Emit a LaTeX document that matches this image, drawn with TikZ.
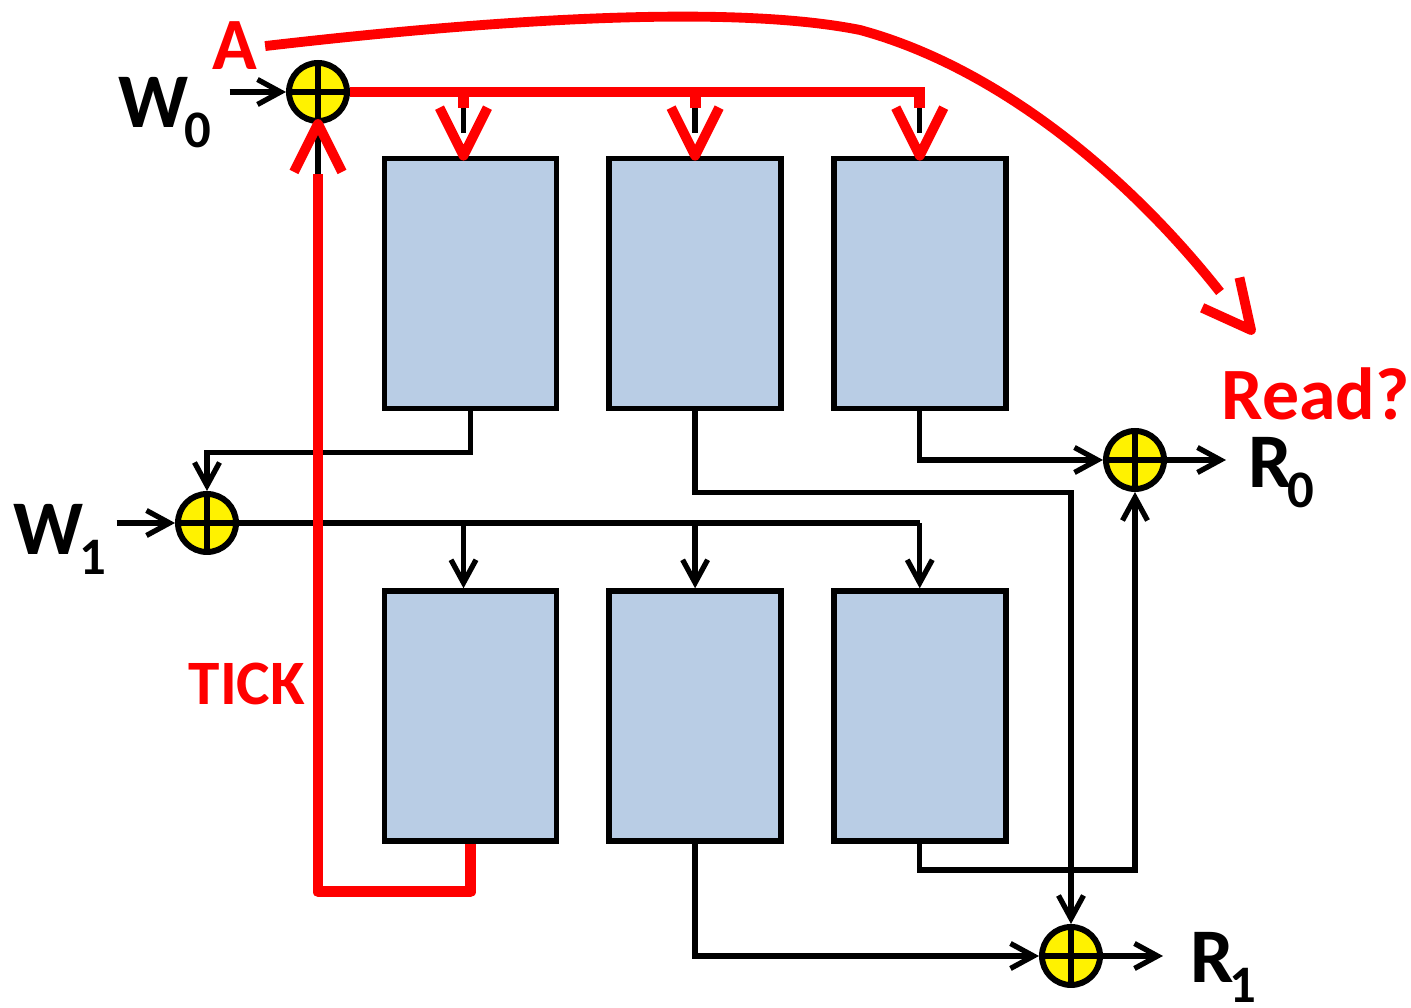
\documentclass[tikz,border=0pt]{standalone}
\usepackage{fontspec}
\setmainfont{Carlito}
\usepackage{xcolor}
\usetikzlibrary{arrows.meta,positioning,calc}
\definecolor{cellblue}{HTML}{B9CDE5}
\definecolor{tickred}{HTML}{FF0000}

\newcommand{\port}[2]{#1\kern-0.06em\raisebox{-5.5pt}{\fontsize{15}{15}\selectfont\bfseries #2}}

\begin{document}
\begin{tikzpicture}[
  cell/.style={draw, line width=1.6pt, fill=cellblue, minimum width=1.72cm, minimum height=2.50cm,
               inner sep=0pt},
  adder/.style={circle, draw, line width=1.7pt, fill=yellow, minimum size=0.58cm, inner sep=0pt,
    path picture={\draw[line width=1.6pt] (path picture bounding box.north) -- (path picture bounding box.south)
                  (path picture bounding box.west) -- (path picture bounding box.east);}},
  wire/.style={line width=1.5pt},
  link/.style={line width=1.5pt, -{Straight Barb[length=2.3mm, width=2.5mm]}},
  tick/.style={draw=tickred, line width=3.1pt, line join=round},
  port/.style={font=\fontsize{22}{22}\selectfont\bfseries, inner sep=0pt, anchor=base west},
  note/.style={text=tickred, font=\fontsize{21}{21}\selectfont\bfseries, inner sep=0pt, anchor=base west},
  redvee/.pic={\draw[tickred, line width=2.8pt, line join=round] (-0.24,0.48) -- (0,0) -- (0.24,0.48);}
]
\useasboundingbox (0,0) rectangle (14.11,10.08);

% memory cells
\node[cell] (m00) at (4.705,7.245) {};
\node[cell, right=0.47cm of m00] (m01) {};
\node[cell, right=0.47cm of m01] (m02) {};
\node[cell, below=1.77cm of m00] (m10) {};
\node[cell, right=0.47cm of m10] (m11) {};
\node[cell, right=0.47cm of m11] (m12) {};

% adders
\node[adder] (a0) at (3.18,9.16) {};
\node[adder] (a1) at (2.07,4.85) {};
\node[adder] (r0a) at (11.35,5.48) {};
\node[adder] (r1a) at (10.71,0.52) {};

% ports and notes
\node[port] (w0) at (1.18,8.80) {\port{W}{0}};
\node[port] (w1) at (0.13,4.53) {\port{W}{1}};
\node[port] (r0) at (12.48,5.20) {\port{R}{0}};
\node[port] (r1) at (11.90,0.25) {\port{R}{1}};
\node[note] (lblA) at (2.12,9.38) {A};
\node[note] (lblread) at (12.21,5.88) {Read?};
\node[note, font=\fontsize{18}{18}\selectfont\bfseries] (lbltick) at (1.88,3.03) {TICK};
\coordinate (readend) at (12.20,7.16);
\coordinate (readtip) at (12.51,6.78);

% write buses
\draw[link, shorten <=1.8mm] (a0 -| w0.east) -- (a0.west);
\draw[link, shorten <=1mm] (a1 -| w1.east) -- (a1.west);
\draw[wire] (a1.east) -- (a1 -| m12.north);
\foreach \c/\dx in {m10/-0.07, m11/0, m12/0}
  \draw[link] ([xshift=\dx cm]\c.north |- a1) -- ([xshift=\dx cm]\c.north);
\foreach \c/\dx in {m00/-0.07, m01/0, m02/0}
  \draw[wire] ([xshift=\dx cm]\c.north |- a0) -- ([xshift=\dx cm, yshift=2.3mm]\c.north);
\draw[wire] (a0.south) -- ++(0,-0.5);

% read paths
\draw[link] (m00.south) -- ++(0,-0.41) -| (a1.north);
\draw[link] (m01.south) -- ++(0,-0.81) -| (r1a.north);
\draw[link] (m02.south) |- (r0a.west);
\draw[link] (m12.south) -- ++(0,-0.26) -| (r0a.south);
\draw[link] (m11.south) |- (r1a.west);
\draw[link, shorten >=2.2mm] (r0a.east) -- (r0a -| r0.west);
\draw[link, shorten >=2.7mm] (r1a.east) -- (r1a -| r1.west);

% red overlay
\draw[tick] (a0.east) -- ([xshift=0.05cm]a0 -| m02.north);
\foreach \c/\dx in {m00/-0.07, m01/0, m02/0} {
  \draw[tick] ([xshift=\dx cm]\c.north |- a0) -- ++(0,-0.16);
  \pic at ([xshift=\dx cm]\c.north) {redvee};
}
\draw[tick] (m10.south) -- ++(0,-0.48) -| ([yshift=-0.5cm]a0.south);
\pic[rotate=180] at (a0.south) {redvee};
\draw[tick, line width=2.8pt] ([xshift=0.7mm]lblA.east) .. controls (5.5,9.95) and (7.5,10.0) .. (8.6,9.78)
  .. controls (10.0,9.4) and (11.3,8.3) .. (readend);
\pic[rotate=39] at (readtip) {redvee};
\end{tikzpicture}
\end{document}
